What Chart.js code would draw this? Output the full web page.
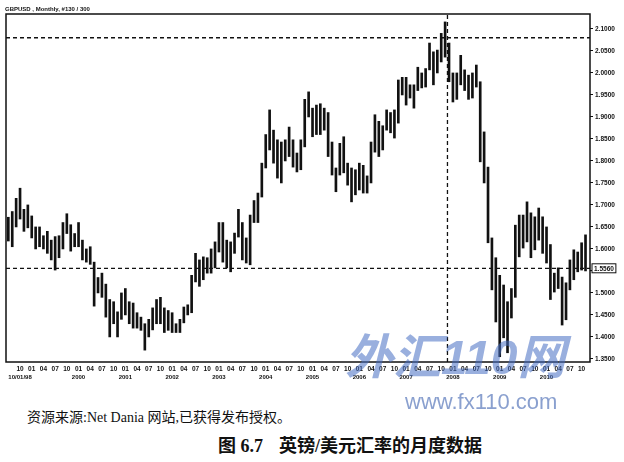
<!DOCTYPE html>
<html>
<head>
<meta charset="utf-8">
<script src="https://cdn.jsdelivr.net/npm/chart.js@4.4.0/dist/chart.umd.min.js"></script>
<style>
  html, body { margin: 0; padding: 0; background: #fff; }
  body { width: 624px; height: 462px; position: relative; overflow: hidden; }
  #chart { position: absolute; left: 0; top: 0; }
  .t { position: absolute; white-space: nowrap; color: #111; }
  #hdr { left: 5px; top: 6px; font: bold 6px/7px "Liberation Sans", sans-serif; }
  #wm1 { left: 345px; top: 331px; font: italic bold 48px/54px "Liberation Sans", "Noto Sans CJK SC", sans-serif; color: rgba(70, 110, 195, 0.55); }
  #wm2 { left: 405px; top: 390px; font: 22px/24px "Liberation Sans", sans-serif; color: #8aa0cf; }
  #src { left: 27px; top: 408px; font: 14px/20px "Liberation Serif", "Noto Sans CJK SC", serif; }
  #cap1 { left: 218px; top: 436px; font: bold 18px/20px "Liberation Serif", "Noto Sans CJK SC", serif; }
  #cap2 { left: 279px; top: 436px; font: bold 18px/20px "Liberation Serif", "Noto Sans CJK SC", serif; }
</style>
</head>
<body>
<canvas id="chart" width="624" height="385"></canvas>
<div class="t" id="hdr">GBPUSD , Monthly, #130 / 300</div>
<div class="t" id="wm1">外汇110网</div>
<div class="t" id="wm2">www.fx110.com</div>
<div class="t" id="src">资源来源:Net Dania 网站,已获得发布授权。</div>
<div class="t" id="cap1">图 6.7</div>
<div class="t" id="cap2">英镑/美元汇率的月度数据</div>

<script>
// GBP/USD monthly bars, first bar = Jul 1998, last bar = Nov 2010
const startYear = 1998;
const startMonth = 7;
const monthLabels = ["01", "02", "03", "04", "05", "06", "07", "08", "09", "10", "11", "12"];
const firstDateLabel = "10/01/98";

const highs = [
  1.672, 1.685, 1.715, 1.738, 1.690, 1.700,                                       // 1998
  1.675, 1.650, 1.650, 1.630, 1.640, 1.620, 1.628, 1.630, 1.660, 1.680, 1.655, 1.635, // 1999
  1.660, 1.620, 1.600, 1.605, 1.570, 1.535, 1.545, 1.520, 1.485, 1.480, 1.457, 1.500, // 2000
  1.510, 1.480, 1.477, 1.455, 1.445, 1.430, 1.440, 1.466, 1.485, 1.490, 1.466, 1.460, // 2001
  1.455, 1.430, 1.440, 1.468, 1.473, 1.540, 1.590, 1.575, 1.582, 1.580, 1.600, 1.616, // 2002
  1.660, 1.660, 1.620, 1.616, 1.636, 1.690, 1.660, 1.625, 1.677, 1.710, 1.727, 1.795, // 2003
  1.860, 1.916, 1.870, 1.848, 1.843, 1.848, 1.877, 1.848, 1.818, 1.848, 1.940, 1.957, // 2004
  1.920, 1.927, 1.930, 1.920, 1.910, 1.843, 1.784, 1.840, 1.855, 1.795, 1.784, 1.780, // 2005
  1.795, 1.790, 1.766, 1.843, 1.905, 1.890, 1.880, 1.916, 1.910, 1.916, 1.984, 1.990, // 2006
  1.990, 1.973, 1.973, 2.013, 2.000, 2.010, 2.068, 2.048, 2.052, 2.090, 2.116, 2.068, // 2007
  2.000, 2.000, 2.040, 2.007, 1.995, 2.000, 2.018, 1.980, 1.866, 1.786, 1.625, 1.580, // 2008
  1.540, 1.518, 1.480, 1.510, 1.654, 1.677, 1.677, 1.707, 1.682, 1.673, 1.693, 1.673, // 2009
  1.650, 1.610, 1.545, 1.557, 1.536, 1.523, 1.575, 1.598, 1.593, 1.614, 1.632         // 2010
];
const lows = [
  1.618, 1.605, 1.650, 1.668, 1.640, 1.648,
  1.625, 1.600, 1.605, 1.600, 1.590, 1.575, 1.552, 1.580, 1.600, 1.635, 1.595, 1.605,
  1.605, 1.575, 1.570, 1.565, 1.470, 1.500, 1.490, 1.445, 1.400, 1.430, 1.400, 1.440,
  1.450, 1.430, 1.420, 1.420, 1.415, 1.370, 1.400, 1.416, 1.430, 1.430, 1.410, 1.415,
  1.410, 1.410, 1.410, 1.432, 1.450, 1.455, 1.525, 1.515, 1.530, 1.545, 1.545, 1.557,
  1.593, 1.570, 1.557, 1.548, 1.590, 1.627, 1.575, 1.568, 1.564, 1.660, 1.660, 1.718,
  1.784, 1.825, 1.795, 1.761, 1.750, 1.800, 1.810, 1.786, 1.775, 1.780, 1.832, 1.900,
  1.855, 1.860, 1.860, 1.870, 1.810, 1.768, 1.730, 1.768, 1.773, 1.745, 1.707, 1.723,
  1.734, 1.727, 1.727, 1.750, 1.820, 1.810, 1.825, 1.870, 1.864, 1.852, 1.886, 1.950,
  1.927, 1.943, 1.920, 1.960, 1.966, 1.968, 2.007, 1.973, 2.000, 2.025, 2.036, 1.980,
  1.934, 1.940, 1.973, 1.960, 1.940, 1.943, 1.968, 1.798, 1.750, 1.614, 1.507, 1.434,
  1.355, 1.398, 1.364, 1.443, 1.490, 1.582, 1.602, 1.616, 1.580, 1.598, 1.620, 1.590,
  1.568, 1.485, 1.502, 1.510, 1.427, 1.439, 1.507, 1.530, 1.548, 1.552, 1.550
];
const yTicks = [1.35, 1.40, 1.45, 1.50, 1.55, 1.60, 1.65, 1.70, 1.75, 1.80, 1.85, 1.90, 1.95, 2.00, 2.05, 2.10];

const lastClose = 1.5560;   // boxed price + dashed line
const crossX = 112.6;       // cursor, around Nov/Dec 2007
const crossY = 2.08;

const xMin = -0.6, xMax = 149.15;
const yMin = 1.343, yMax = 2.134;

function monthOf(i) { return (startMonth - 1 + i) % 12 + 1; }
function yearOf(i) { return startYear + Math.floor((startMonth - 1 + i) / 12); }

const bars = highs.map((h, i) => ({ x: i, y: [lows[i], h] }));

const tickFont = { family: "Liberation Sans", size: 6.5, weight: "bold" };

const frame = {
  id: "frame",
  afterDatasetsDraw(chart) {
    const { ctx, chartArea: a, scales } = chart;
    ctx.save();
    ctx.strokeStyle = "#111";
    ctx.lineWidth = 1.5;
    ctx.strokeRect(a.left, a.top, a.right - a.left, a.bottom - a.top);
    const py = scales.y.getPixelForValue(lastClose);
    ctx.font = 'bold 6.5px "Liberation Sans"';
    const txt = lastClose.toFixed(4);
    const w = ctx.measureText(txt).width + 4;
    ctx.fillStyle = "#fff";
    ctx.fillRect(a.right + 2, py - 4.5, w, 9);
    ctx.lineWidth = 1;
    ctx.strokeRect(a.right + 2, py - 4.5, w, 9);
    ctx.fillStyle = "#111";
    ctx.textBaseline = "middle";
    ctx.fillText(txt, a.right + 4, py + 0.5);
    ctx.restore();
  }
};

const dashed = {
  type: "line",
  borderColor: "#111",
  borderWidth: 1.3,
  borderDash: [4, 3],
  pointRadius: 0,
  fill: false
};

new Chart(document.getElementById("chart"), {
  type: "bar",
  data: {
    datasets: [
      {
        label: "GBPUSD",
        data: bars,
        backgroundColor: "#111",
        borderWidth: 0,
        borderSkipped: false,
        barThickness: 2
      },
      Object.assign({ data: [{ x: xMin, y: lastClose }, { x: xMax, y: lastClose }] }, dashed),
      Object.assign({ data: [{ x: xMin, y: crossY }, { x: xMax, y: crossY }] }, dashed),
      Object.assign({ data: [{ x: crossX, y: yMin }, { x: crossX, y: yMax }] }, dashed)
    ]
  },
  options: {
    responsive: false,
    animation: false,
    layout: { padding: { left: 6, top: 14, right: 0, bottom: 0 } },
    plugins: {
      legend: { display: false },
      tooltip: { enabled: false }
    },
    scales: {
      x: {
        type: "linear",
        position: "bottom",
        min: xMin,
        max: xMax,
        offset: false,
        grid: { display: false, drawTicks: false },
        border: { display: false },
        afterBuildTicks: function (scale) {
          const t = [];
          for (let i = 3; i < highs.length; i += 3) t.push({ value: i });
          scale.ticks = t;
        },
        afterFit: function (scale) { scale.height = 11; },
        ticks: {
          autoSkip: false,
          maxRotation: 0,
          minRotation: 0,
          padding: 3,
          color: "#111",
          font: tickFont,
          callback: function (v) { return monthLabels[monthOf(v) - 1]; }
        }
      },
      x2: {
        type: "linear",
        position: "bottom",
        min: xMin,
        max: xMax,
        offset: false,
        grid: { display: false, drawTicks: false },
        border: { display: false },
        afterBuildTicks: function (scale) {
          // start label, then every January from 2000 (1999 would overlap the start label)
          const t = [{ value: 3 }];
          for (let i = 0; i < highs.length; i++) {
            if (monthOf(i) === 1 && yearOf(i) >= 2000) t.push({ value: i });
          }
          scale.ticks = t;
        },
        afterFit: function (scale) { scale.height = 12; },
        ticks: {
          autoSkip: false,
          maxRotation: 0,
          minRotation: 0,
          padding: 1,
          color: "#111",
          font: { family: "Liberation Sans", size: 6, weight: "bold" },
          callback: function (v) { return v === 3 ? firstDateLabel : String(yearOf(v)); }
        }
      },
      y: {
        type: "linear",
        position: "right",
        min: yMin,
        max: yMax,
        grid: { drawOnChartArea: false, drawTicks: true, tickLength: 3, color: "#111", lineWidth: 1 },
        border: { display: false },
        afterBuildTicks: function (scale) {
          scale.ticks = yTicks.map(v => ({ value: v }));
        },
        afterFit: function (scale) { scale.width = 34; },
        ticks: {
          padding: 2,
          color: "#111",
          font: tickFont,
          callback: function (v) { return Math.abs(v - 1.55) < 1e-6 ? "" : v.toFixed(4); }
        }
      }
    }
  },
  plugins: [frame]
});
</script>
</body>
</html>
